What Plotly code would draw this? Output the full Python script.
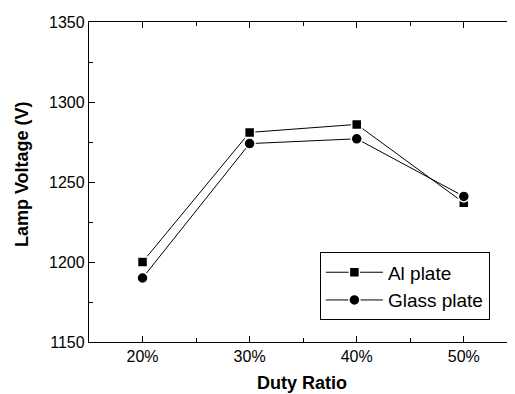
import plotly.graph_objects as go

duty = [20, 30, 40, 50]
duty_labels = ["20%", "30%", "40%", "50%"]
al_plate = [1200, 1281, 1286, 1237]
glass_plate = [1190, 1274, 1277, 1241]
y_ticks = [1150, 1200, 1250, 1300, 1350]

FONT = "Arial, Liberation Sans, sans-serif"

fig = go.Figure()
fig.add_trace(go.Scatter(
    x=duty, y=al_plate, name="Al plate", mode="lines+markers",
    line=dict(color="black", width=1),
    marker=dict(symbol="square", size=10, color="black",
                line=dict(color="white", width=1.5)),
))
fig.add_trace(go.Scatter(
    x=duty, y=glass_plate, name="Glass plate", mode="lines+markers",
    line=dict(color="black", width=1),
    marker=dict(symbol="circle", size=11, color="black",
                line=dict(color="white", width=1.5)),
))

axis_common = dict(
    showline=True, linecolor="black", linewidth=1.3, mirror="ticks",
    ticks="inside", ticklen=6, tickwidth=1.2, tickcolor="black",
    showgrid=False, zeroline=False,
    tickfont=dict(family=FONT, size=16, color="black"),
)

fig.update_xaxes(
    range=[15, 54.78], tickvals=duty, ticktext=duty_labels,
    minor=dict(ticks="inside", ticklen=4, tickwidth=1.2, tickcolor="black", dtick=5, tick0=15),
    **axis_common,
)
fig.update_yaxes(
    range=[1150, 1350], tickvals=y_ticks,
    minor=dict(ticks="inside", ticklen=4, tickwidth=1.2, tickcolor="black", dtick=25, tick0=1150),
    **axis_common,
)

fig.add_annotation(
    text="<b>Duty Ratio</b>", xref="paper", yref="paper",
    x=0.5, y=-0.128, xanchor="center", yanchor="middle", showarrow=False,
    font=dict(family=FONT, size=18, color="black"),
)
fig.add_annotation(
    text="<b>Lamp Voltage (V)</b>", xref="paper", yref="paper",
    x=-0.157, y=0.525, xanchor="center", yanchor="middle", showarrow=False,
    textangle=-90, font=dict(family=FONT, size=18, color="black"),
)

# page body adds an 8px margin, so the figure is 8px smaller than the window
fig.update_layout(
    width=507, height=386,
    margin=dict(l=81, r=0, t=14, b=52),
    paper_bgcolor="white", plot_bgcolor="white",
    showlegend=True,
    legend=dict(
        x=0.542, y=0.28, xanchor="left", yanchor="top",
        bordercolor="black", borderwidth=1, bgcolor="white",
        font=dict(family=FONT, size=19, color="black"),
        itemwidth=57, tracegroupgap=0,
    ),
)

fig.write_html("out.html")
